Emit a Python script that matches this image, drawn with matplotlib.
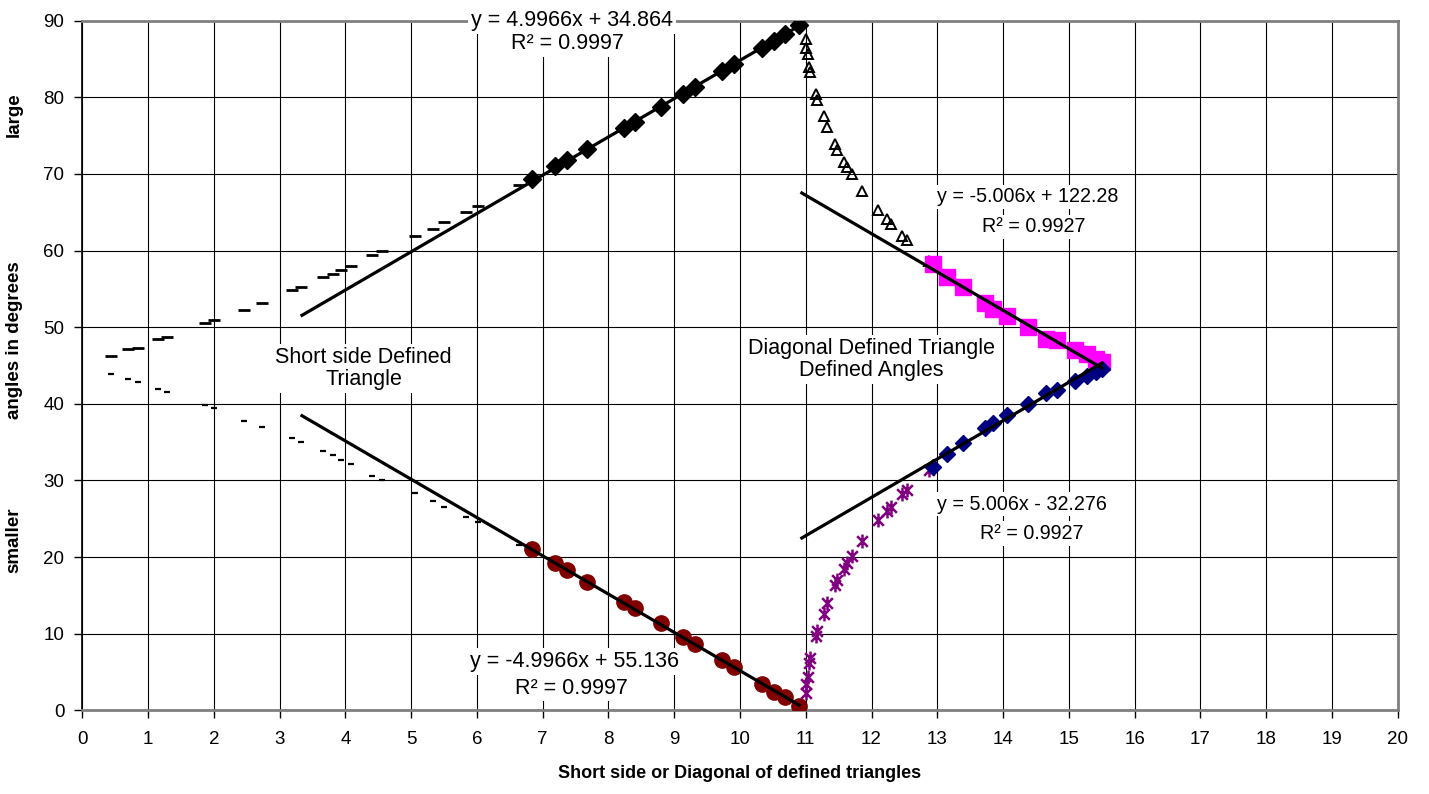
import matplotlib
matplotlib.use('Agg')
import matplotlib.pyplot as plt
from matplotlib.path import Path

plt.rcParams['font.family'] = ['Liberation Sans', 'DejaVu Sans']

# ---------------- data ----------------
# short-side defined triangle, small x (dash markers)
dash_x = [0.44, 0.70, 0.85, 1.15, 1.29, 1.86, 2.00, 2.46, 2.73, 3.19, 3.33, 3.66,
          3.81, 3.93, 4.08, 4.40, 4.56, 5.06, 5.33, 5.50, 5.83, 6.02, 6.64]
dash_large = [46.3, 47.1, 47.3, 48.4, 48.7, 50.5, 50.9, 52.3, 53.2, 54.8, 55.3, 56.5,
              57.0, 57.5, 58.0, 59.4, 59.9, 61.9, 62.8, 63.7, 65.1, 65.8, 68.6]
dash_small = [43.9, 43.2, 42.8, 42.0, 41.5, 39.8, 39.4, 37.8, 37.0, 35.5, 35.0, 33.8,
              33.3, 32.7, 32.1, 30.6, 30.1, 28.3, 27.3, 26.6, 25.2, 24.6, 21.6]

# short-side defined triangle, larger x (diamonds / circles)
short_x = [6.83, 7.19, 7.37, 7.68, 8.23, 8.40, 8.80, 9.13, 9.32, 9.73, 9.91,
           10.33, 10.51, 10.69, 10.90]
short_large = [69.3, 71.0, 71.8, 73.3, 76.0, 76.8, 78.7, 80.4, 81.3, 83.4, 84.3,
               86.5, 87.4, 88.3, 89.4]
short_small = [21.0, 19.2, 18.3, 16.8, 14.1, 13.3, 11.4, 9.6, 8.7, 6.6, 5.6,
               3.4, 2.4, 1.7, 0.6]

# diagonal defined triangle, first part (triangles / stars)
diag_x = [11.00, 11.01, 11.03, 11.05, 11.06, 11.15, 11.17, 11.27, 11.33, 11.45,
          11.48, 11.58, 11.63, 11.71, 11.86, 12.10, 12.23, 12.29, 12.46, 12.54, 12.87]
diag_large = [87.6, 86.4, 85.7, 83.9, 83.3, 80.4, 79.6, 77.5, 76.1, 73.9,
              73.1, 71.6, 70.9, 70.0, 67.8, 65.3, 64.1, 63.5, 61.9, 61.4, 58.7]
diag_small = [2.3, 3.4, 4.4, 6.2, 6.8, 9.7, 10.3, 12.6, 14.0, 16.4,
              17.0, 18.5, 19.2, 20.2, 22.1, 24.8, 26.0, 26.6, 28.2, 28.7, 31.3]

# diagonal defined angles (squares / diamonds)
angle_x = [12.94, 13.14, 13.39, 13.73, 13.85, 14.06, 14.38, 14.66, 14.82,
           15.09, 15.27, 15.42, 15.50]
angle_large = [58.3, 56.5, 55.2, 53.2, 52.4, 51.5, 50.0, 48.5, 48.3,
               47.0, 46.5, 45.9, 45.4]
angle_small = [31.8, 33.4, 34.9, 36.8, 37.5, 38.6, 40.0, 41.4, 41.8,
               43.0, 43.6, 44.2, 44.6]

# linear trendlines: slope, intercept, x-range
trend_slope = [4.9966, -4.9966, -5.006, 5.006]
trend_icpt = [34.864, 55.136, 122.28, -32.276]
trend_xmin = [3.34, 3.34, 10.94, 10.94]
trend_xmax = [10.90, 10.90, 15.50, 15.50]

trend_eq = ["y = 4.9966x + 34.864", "y = -4.9966x + 55.136",
            "y = -5.006x + 122.28", "y = 5.006x - 32.276"]
trend_r2 = ["R² = 0.9997", "R² = 0.9997", "R² = 0.9927", "R² = 0.9927"]
eq_pos = [(7.45, 90.0), (7.48, 6.4), (14.38, 67.0), (14.28, 26.9)]
r2_pos = [(7.37, 87.0), (7.43, 2.9), (14.46, 63.1), (14.44, 23.1)]
label_size = [15.5, 15.5, 14.2, 14.2]

region_labels = ["Short side Defined\nTriangle", "Diagonal Defined Triangle\nDefined Angles"]
region_pos = [(4.28, 44.6), (12.0, 45.8)]

x_ticks = list(range(0, 21))
y_ticks = list(range(0, 91, 10))

# ---------------- figure ----------------
fig = plt.figure(figsize=(14.29, 7.94), dpi=100)
ax = fig.add_axes([0.0576, 0.1054, 0.9205, 0.8685])
ax.set_xlim(0, 20)
ax.set_ylim(0, 90)

ax.set_xticks(x_ticks)
ax.set_yticks(y_ticks)
ax.grid(True, color='black', linewidth=0.8, zorder=0)
ax.set_axisbelow(True)
ax.tick_params(axis='both', direction='out', length=6, width=1, color='black',
               labelsize=13.5)
ax.tick_params(axis='x', pad=9)
ax.tick_params(axis='y', pad=7)

for side in ['top', 'right', 'bottom']:
    ax.spines[side].set_color('#808080')
    ax.spines[side].set_linewidth(2)
ax.spines['left'].set_color('black')
ax.spines['left'].set_linewidth(1.2)

# star marker (X with vertical bar)
star = Path([(-1, -1), (1, 1), (-1, 1), (1, -1), (0, -1.3), (0, 1.3)],
            [Path.MOVETO, Path.LINETO, Path.MOVETO, Path.LINETO, Path.MOVETO, Path.LINETO])

ax.plot(dash_x, dash_large, linestyle='none', marker='_', markersize=8.6,
        markeredgewidth=2.0, color='black', zorder=3)
ax.plot(dash_x, dash_small, linestyle='none', marker='_', markersize=5,
        markeredgewidth=1.6, color='black', zorder=3)
ax.plot(short_x, short_large, linestyle='none', marker='D', markersize=9.5,
        color='black', zorder=3)
ax.plot(short_x, short_small, linestyle='none', marker='o', markersize=11,
        color='#800000', markeredgecolor='#800000', zorder=3)
ax.plot(diag_x, diag_large, linestyle='none', marker='^', markersize=6.5,
        markerfacecolor='none', markeredgecolor='black', markeredgewidth=1.4, zorder=3)
ax.plot(diag_x, diag_small, linestyle='none', marker=star, markersize=10,
        markeredgecolor='#800080', markeredgewidth=1.8, zorder=3)
ax.plot(angle_x, angle_large, linestyle='none', marker='s', markersize=11,
        color='#FF00FF', zorder=3)
ax.plot(angle_x, angle_small, linestyle='none', marker='D', markersize=8.5,
        color='#000080', zorder=3)

for m, b, x0, x1 in zip(trend_slope, trend_icpt, trend_xmin, trend_xmax):
    ax.plot([x0, x1], [m * x0 + b, m * x1 + b], color='black', linewidth=2.3, zorder=4)

box = dict(facecolor='white', edgecolor='none', pad=2)
for txt, (tx, ty), fs in zip(trend_eq, eq_pos, label_size):
    ax.text(tx, ty, txt, ha='center', va='center', fontsize=fs, bbox=box, zorder=5)
for txt, (tx, ty), fs in zip(trend_r2, r2_pos, label_size):
    ax.text(tx, ty, txt, ha='center', va='center', fontsize=fs, bbox=box, zorder=5)
for txt, (tx, ty) in zip(region_labels, region_pos):
    ax.text(tx, ty, txt, ha='center', va='center', fontsize=15.5,
            linespacing=1.1, bbox=box, zorder=5)

ax.set_xlabel("Short side or Diagonal of defined triangles", fontsize=13,
              fontweight='bold', labelpad=12)

fig.text(0.0098, 1 - 115 / 794, "large", rotation=90, ha='center', va='center',
         fontsize=13.5, fontweight='bold')
fig.text(0.0098, 1 - 340 / 794, "angles in degrees", rotation=90, ha='center',
         va='center', fontsize=13.5, fontweight='bold')
fig.text(0.0098, 1 - 540 / 794, "smaller", rotation=90, ha='center', va='center',
         fontsize=13.5, fontweight='bold')

fig.savefig('out.png', dpi=100, facecolor='white')
